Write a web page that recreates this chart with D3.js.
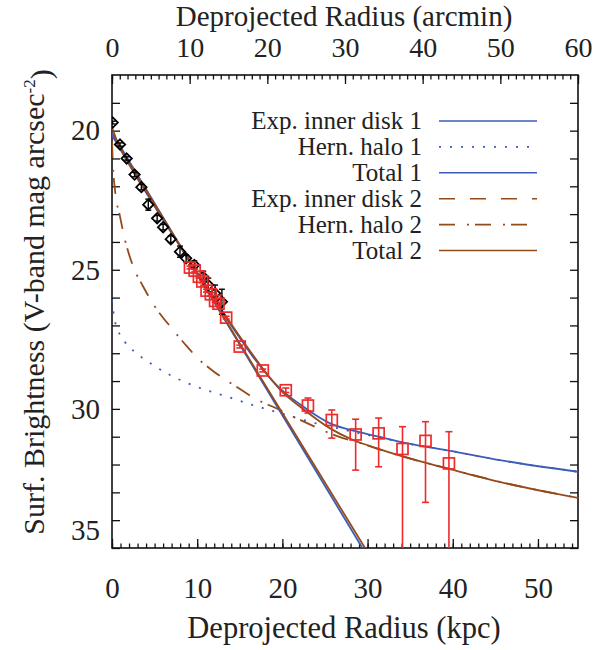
<!DOCTYPE html>
<html>
<head>
<meta charset="utf-8">
<script src="https://cdn.jsdelivr.net/npm/d3@7"></script>
<style>
  body { margin: 0; background: #fff; }
  svg text { font-family: "Liberation Serif", "DejaVu Serif", serif; fill: #222; }
</style>
</head>
<body>
<svg id="container" width="608" height="650"></svg>
<script>
// ---- data ----
// black diamonds (inner data)
const diamondR   = [0.08, 0.94, 1.72, 2.65, 3.45, 4.26, 5.3, 6.0, 6.9, 7.98, 8.7, 9.66, 10.7, 11.3, 12.1, 12.9];
const diamondMag = [19.71, 20.5, 21.0, 21.58, 22.03, 22.66, 23.15, 23.47, 23.9, 24.35, 24.59, 24.83, 25.25, 25.55, 25.85, 26.15];
const diamondErr = [0.05, 0.06, 0.06, 0.08, 0.1, 0.2, 0.1, 0.1, 0.12, 0.2, 0.12, 0.15, 0.2, 0.25, 0.3, 0.45];

// red squares (outer data), errors up (brighter) / down (fainter)
const squareR     = [9.15, 9.7, 10.2, 10.6, 11.1, 11.6, 12.1, 12.5, 13.4, 15.0, 17.7, 20.4, 23.0, 25.8, 28.6, 31.3, 34.1, 36.8, 39.55];
const squareMag   = [24.92, 25.03, 25.25, 25.42, 25.75, 25.88, 26.12, 26.22, 26.72, 27.76, 28.62, 29.33, 29.88, 30.4, 30.92, 30.88, 31.44, 31.15, 31.96];
const squareErrUp = [0.05, 0.05, 0.05, 0.05, 0.05, 0.05, 0.05, 0.05, 0.05, 0.05, 0.05, 0.08, 0.27, 0.36, 0.55, 0.55, 0.8, 0.69, 1.14];
const squareErrDn = [0.05, 0.05, 0.05, 0.05, 0.05, 0.05, 0.05, 0.05, 0.05, 0.05, 0.05, 0.08, 0.27, 0.65, 1.28, 1.2, 5.0, 2.21, 5.0];

// model curves (kpc, mag)
const disk1R = [0, 30],  disk1Mag = [20.07, 35.31];
const disk2R = [0, 30],  disk2Mag = [20.15, 35.15];

const halo1R   = [0, 0.25, 0.7, 1.53, 2.7, 4.46, 6.8, 9.74, 13.3, 16.2, 19.7, 23.8, 25.8, 28.6, 31.3, 34.1, 39.55, 45.5, 54.7];
const halo1Mag = [26.1, 26.7, 27.17, 27.6, 27.96, 28.35, 28.78, 29.18, 29.54, 29.83, 30.15, 30.51, 30.65, 30.85, 31.02, 31.21, 31.5, 31.84, 32.26];

const halo2R   = [0, 0.12, 0.35, 0.94, 1.53, 2.5, 3.67, 5.05, 7, 8.5, 10.3, 11.7, 13.3, 15.2, 16.4, 19.7, 21.7, 23.8, 26.6, 29.3, 31.1, 34, 39.5, 45.5, 54.7];
const halo2Mag = [20.4, 21.3, 22.13, 23.09, 23.93, 24.89, 25.61, 26.33, 27.1, 27.65, 28.25, 28.6, 28.95, 29.32, 29.56, 30.04, 30.34, 30.64, 31.0, 31.24, 31.43, 31.7, 32.15, 32.62, 33.2];

const total1R   = [0, 1, 2, 3, 4, 5, 6, 7, 8, 9, 10, 11, 12, 13, 14, 15, 16.2, 17.7, 19, 20.4, 22, 23, 25.8, 28.6, 31.3, 34.1, 36.8, 39.55, 45.5, 54.7];
const total1Mag = [20.16, 20.68, 21.2, 21.72, 22.22, 22.72, 23.2, 23.68, 24.16, 24.64, 25.12, 25.6, 26.07, 26.53, 27.0, 27.45, 27.98, 28.58, 29.05, 29.45, 29.82, 30.04, 30.55, 30.8, 31.0, 31.2, 31.36, 31.5, 31.84, 32.26];

const total2R   = [0, 0.5, 1, 2, 3, 4, 5, 6, 7, 8, 9, 10, 11, 12, 13, 14, 15, 16.2, 17.7, 19.7, 22.85, 25.6, 28.3, 31.1, 34, 39.5, 45.5, 54.7];
const total2Mag = [19.88, 20.3, 20.65, 21.2, 21.72, 22.2, 22.7, 23.18, 23.66, 24.14, 24.62, 25.1, 25.58, 26.05, 26.5, 26.95, 27.4, 27.92, 28.55, 29.3, 30.1, 30.7, 31.12, 31.42, 31.7, 32.15, 32.62, 33.2];

const legendLabels = ["Exp. inner disk 1", "Hern. halo 1", "Total 1", "Exp. inner disk 2", "Hern. halo 2", "Total 2"];

const xTicks = [0, 10, 20, 30, 40, 50];
const xTopTicks = [0, 10, 20, 30, 40, 50, 60];
const yTicks = [20, 25, 30, 35];

// ---- styles ----
const blue = "#3b5cb8", brown = "#944b1c", red = "#ee2a2a";
const styles = [
  {color: blue,  dash: null},
  {color: blue,  dash: "2,9"},
  {color: blue,  dash: null},
  {color: brown, dash: "16,15"},
  {color: brown, dash: "16,12,2,6"},
  {color: brown, dash: null}
];

const L = 112, R = 578, T = 75, B = 548;

const svg = d3.select("#container");

const x = d3.scaleLinear().domain([0, 54.7]).range([L, R]);
const xTop = d3.scaleLinear().domain([0, 60]).range([L, R]);
const y = d3.scaleLinear().domain([18, 35]).range([T, B]);

svg.append("defs").append("clipPath").attr("id", "clip")
  .append("rect").attr("x", L).attr("y", T).attr("width", R - L).attr("height", B - T);

// axes
function styleAxis(g) {
  g.select(".domain").remove();
  g.selectAll(".tick line").attr("stroke", "#111").attr("stroke-width", 1.3);
  g.selectAll("text").style("font-size", "29px").attr("fill", "#222");
}

// bottom
svg.append("g").attr("transform", "translate(0," + B + ")")
  .call(d3.axisBottom(x).tickValues(d3.range(0, 55, 1)).tickSize(-4.5).tickFormat(""))
  .call(styleAxis);
svg.append("g").attr("transform", "translate(0," + B + ")")
  .call(d3.axisBottom(x).tickValues(xTicks).tickSize(-9).tickPadding(29).tickFormat(d3.format("d")))
  .call(styleAxis);

// top
svg.append("g").attr("transform", "translate(0," + T + ")")
  .call(d3.axisTop(xTop).tickValues(d3.range(0, 61, 1)).tickSize(-4.5).tickFormat(""))
  .call(styleAxis);
svg.append("g").attr("transform", "translate(0," + T + ")")
  .call(d3.axisTop(xTop).tickValues(xTopTicks).tickSize(-9).tickPadding(18).tickFormat(d3.format("d")))
  .call(styleAxis)
  .call(g => g.selectAll("text").style("font-size", "28px"));

// left
svg.append("g").attr("transform", "translate(" + L + ",0)")
  .call(d3.axisLeft(y).tickValues(d3.range(19, 36, 1)).tickSize(-8).tickFormat(""))
  .call(styleAxis);
const gy = svg.append("g").attr("transform", "translate(" + L + ",0)")
  .call(d3.axisLeft(y).tickValues(yTicks).tickSize(0).tickPadding(12).tickFormat(d3.format("d")))
  .call(styleAxis);
gy.selectAll(".tick").filter(d => d === 35).select("text").attr("dy", "-0.3em");

// right
svg.append("g").attr("transform", "translate(" + R + ",0)")
  .call(d3.axisRight(y).tickValues(d3.range(19, 36, 1)).tickSize(-8).tickFormat(""))
  .call(styleAxis);

// frame
svg.append("rect").attr("x", L).attr("y", T).attr("width", R - L).attr("height", B - T)
  .attr("fill", "none").attr("stroke", "#111").attr("stroke-width", 1.6);

// titles
svg.append("text").attr("x", 344).attr("y", 26).attr("text-anchor", "middle")
  .style("font-size", "29px").text("Deprojected Radius (arcmin)");
svg.append("text").attr("x", 344).attr("y", 638).attr("text-anchor", "middle")
  .style("font-size", "30.5px").text("Deprojected Radius (kpc)");
const yt = svg.append("text").attr("transform", "translate(44,302) rotate(-90)")
  .attr("text-anchor", "middle").style("font-size", "30px");
yt.append("tspan").text("Surf. Brightness (V-band mag arcsec");
yt.append("tspan").attr("dy", "-0.55em").style("font-size", "17px").text("-2");
yt.append("tspan").attr("dy", "0.55em").text(")");

// curves
const plot = svg.append("g").attr("clip-path", "url(#clip)");
const line = d3.line().x(d => x(d[0])).y(d => y(d[1])).curve(d3.curveMonotoneX);
const zip = (a, b) => a.map((v, i) => [v, b[i]]);

const curves = [
  zip(disk1R, disk1Mag), zip(halo1R, halo1Mag), zip(total1R, total1Mag),
  zip(disk2R, disk2Mag), zip(halo2R, halo2Mag), zip(total2R, total2Mag)
];
const drawOrder = [1, 4, 0, 3, 2, 5];
drawOrder.forEach(function(i) {
  plot.append("path").datum(curves[i])
    .attr("d", line)
    .attr("fill", "none")
    .attr("stroke", styles[i].color)
    .attr("stroke-width", 1.8)
    .attr("stroke-dasharray", i === 3 ? null : styles[i].dash);
});

// diamonds with error bars
const diamonds = diamondR.map((r, i) => ({r: r, m: diamondMag[i], e: diamondErr[i]}));
const dg = plot.selectAll(".dia").data(diamonds).enter().append("g").attr("class", "dia");
dg.append("line")
  .attr("x1", d => x(d.r)).attr("x2", d => x(d.r))
  .attr("y1", d => y(d.m - d.e)).attr("y2", d => y(d.m + d.e))
  .attr("stroke", "#000").attr("stroke-width", 1.4);
dg.append("line")
  .attr("x1", d => x(d.r) - 3).attr("x2", d => x(d.r) + 3)
  .attr("y1", d => y(d.m - d.e)).attr("y2", d => y(d.m - d.e))
  .attr("stroke", "#000").attr("stroke-width", 1.4);
dg.append("line")
  .attr("x1", d => x(d.r) - 3).attr("x2", d => x(d.r) + 3)
  .attr("y1", d => y(d.m + d.e)).attr("y2", d => y(d.m + d.e))
  .attr("stroke", "#000").attr("stroke-width", 1.4);
dg.append("path")
  .attr("d", d => { const cx = x(d.r), cy = y(d.m), s = 5.2;
    return "M" + cx + "," + (cy - s) + "L" + (cx + s) + "," + cy + "L" + cx + "," + (cy + s) + "L" + (cx - s) + "," + cy + "Z"; })
  .attr("fill", "none").attr("stroke", "#000").attr("stroke-width", 1.8);

// squares with error bars
const squares = squareR.map((r, i) => ({r: r, m: squareMag[i], up: squareErrUp[i], dn: squareErrDn[i]}));
const sg = plot.selectAll(".sq").data(squares).enter().append("g").attr("class", "sq");
sg.append("line")
  .attr("x1", d => x(d.r)).attr("x2", d => x(d.r))
  .attr("y1", d => y(d.m - d.up)).attr("y2", d => y(d.m + d.dn))
  .attr("stroke", red).attr("stroke-width", 1.6);
sg.append("line")
  .attr("x1", d => x(d.r) - 3.5).attr("x2", d => x(d.r) + 3.5)
  .attr("y1", d => y(d.m - d.up)).attr("y2", d => y(d.m - d.up))
  .attr("stroke", red).attr("stroke-width", 1.6);
sg.append("line")
  .attr("x1", d => x(d.r) - 3.5).attr("x2", d => x(d.r) + 3.5)
  .attr("y1", d => y(d.m + d.dn)).attr("y2", d => y(d.m + d.dn))
  .attr("stroke", red).attr("stroke-width", 1.6);
sg.append("rect")
  .attr("x", d => x(d.r) - 5.5).attr("y", d => y(d.m) - 5.5)
  .attr("width", 11).attr("height", 11)
  .attr("fill", "none").attr("stroke", red).attr("stroke-width", 1.7);

// legend
const lg = svg.append("g");
legendLabels.forEach(function(lab, i) {
  const cy = 121 + i * 25.9;
  lg.append("text").attr("x", 422).attr("y", cy + 8).attr("text-anchor", "end")
    .style("font-size", "25px").text(lab);
  lg.append("line").attr("x1", 439).attr("x2", 537).attr("y1", cy).attr("y2", cy)
    .attr("stroke", styles[i].color).attr("stroke-width", 1.6)
    .attr("stroke-dasharray", styles[i].dash);
});
</script>
</body>
</html>
